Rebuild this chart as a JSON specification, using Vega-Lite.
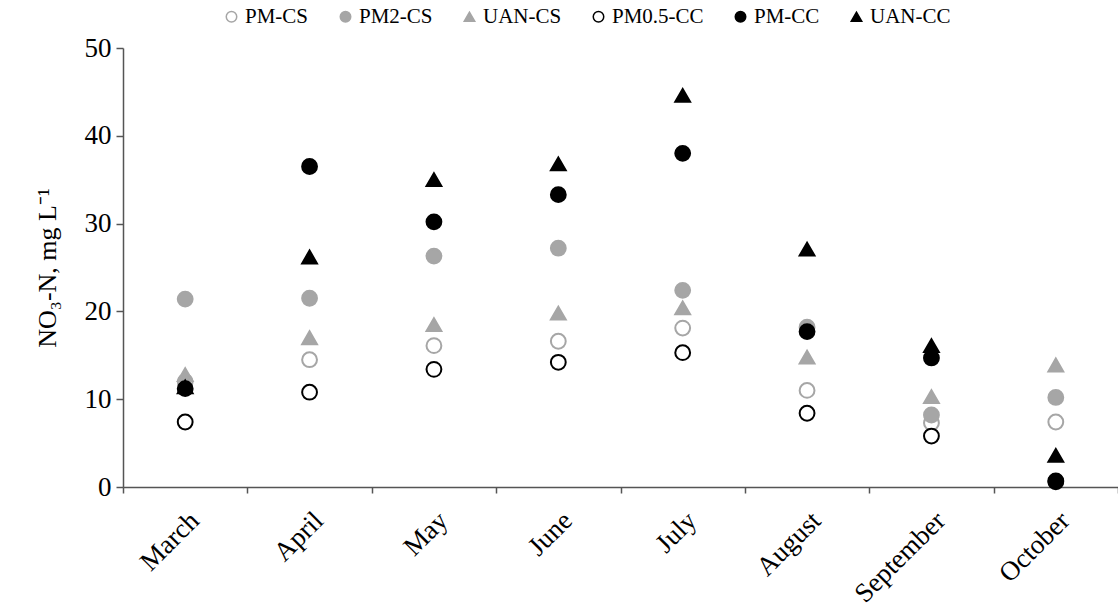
{
  "$schema": "https://vega.github.io/schema/vega-lite/v6.json",
  "autosize": {"type": "none"},
  "padding": {"left": 123, "top": 48, "right": 0, "bottom": 124},
  "width": 995,
  "height": 439,
  "background": "white",
  "config": {
    "font": "Liberation Serif",
    "view": {"stroke": null},
    "legend": {"labelFont": "Liberation Serif"}
  },
  "data": {
    "values": [
      {"month": "March", "series": "PM-CS", "value": 12.0},
      {"month": "March", "series": "PM2-CS", "value": 21.4},
      {"month": "March", "series": "UAN-CS", "value": 12.8},
      {"month": "March", "series": "PM0.5-CC", "value": 7.4},
      {"month": "March", "series": "PM-CC", "value": 11.2},
      {"month": "March", "series": "UAN-CC", "value": 11.4},
      {"month": "April", "series": "PM-CS", "value": 14.5},
      {"month": "April", "series": "PM2-CS", "value": 21.5},
      {"month": "April", "series": "UAN-CS", "value": 17.0},
      {"month": "April", "series": "PM0.5-CC", "value": 10.8},
      {"month": "April", "series": "PM-CC", "value": 36.5},
      {"month": "April", "series": "UAN-CC", "value": 26.2},
      {"month": "May", "series": "PM-CS", "value": 16.1},
      {"month": "May", "series": "PM2-CS", "value": 26.3},
      {"month": "May", "series": "UAN-CS", "value": 18.5},
      {"month": "May", "series": "PM0.5-CC", "value": 13.4},
      {"month": "May", "series": "PM-CC", "value": 30.2},
      {"month": "May", "series": "UAN-CC", "value": 35.0},
      {"month": "June", "series": "PM-CS", "value": 16.6},
      {"month": "June", "series": "PM2-CS", "value": 27.2},
      {"month": "June", "series": "UAN-CS", "value": 19.8},
      {"month": "June", "series": "PM0.5-CC", "value": 14.2},
      {"month": "June", "series": "PM-CC", "value": 33.3},
      {"month": "June", "series": "UAN-CC", "value": 36.8},
      {"month": "July", "series": "PM-CS", "value": 18.1},
      {"month": "July", "series": "PM2-CS", "value": 22.4},
      {"month": "July", "series": "UAN-CS", "value": 20.4},
      {"month": "July", "series": "PM0.5-CC", "value": 15.3},
      {"month": "July", "series": "PM-CC", "value": 38.0},
      {"month": "July", "series": "UAN-CC", "value": 44.6},
      {"month": "August", "series": "PM-CS", "value": 11.0},
      {"month": "August", "series": "PM2-CS", "value": 18.2},
      {"month": "August", "series": "UAN-CS", "value": 14.8},
      {"month": "August", "series": "PM0.5-CC", "value": 8.4},
      {"month": "August", "series": "PM-CC", "value": 17.7},
      {"month": "August", "series": "UAN-CC", "value": 27.1},
      {"month": "September", "series": "PM-CS", "value": 7.3},
      {"month": "September", "series": "PM2-CS", "value": 8.2},
      {"month": "September", "series": "UAN-CS", "value": 10.3},
      {"month": "September", "series": "PM0.5-CC", "value": 5.8},
      {"month": "September", "series": "PM-CC", "value": 14.7},
      {"month": "September", "series": "UAN-CC", "value": 16.1},
      {"month": "October", "series": "PM-CS", "value": 7.4},
      {"month": "October", "series": "PM2-CS", "value": 10.2},
      {"month": "October", "series": "UAN-CS", "value": 13.9},
      {"month": "October", "series": "PM0.5-CC", "value": 0.7},
      {"month": "October", "series": "PM-CC", "value": 0.6},
      {"month": "October", "series": "UAN-CC", "value": 3.6}
    ]
  },
  "mark": {"type": "point", "size": 220, "strokeWidth": 2, "opacity": 1},
  "encoding": {
    "x": {
      "field": "month",
      "type": "nominal",
      "sort": null,
      "scale": {"type": "band", "paddingInner": 0, "paddingOuter": 0},
      "axis": {
        "title": null,
        "tickBand": "extent",
        "labelAngle": -45,
        "labelAlign": "right",
        "labelBaseline": "top",
        "labelFont": "Liberation Serif",
        "labelFontSize": 27,
        "labelColor": "black",
        "labelPadding": 14,
        "domainColor": "#555555",
        "domainWidth": 1.5,
        "tickColor": "#555555",
        "tickWidth": 1.5,
        "tickSize": 6
      }
    },
    "y": {
      "field": "value",
      "type": "quantitative",
      "scale": {"domain": [0, 50], "nice": false, "zero": true},
      "axis": {
        "title": "NO₃-N, mg L⁻¹",
        "titleFont": "Liberation Serif",
        "titleFontSize": 26,
        "titleFontWeight": "normal",
        "titleColor": "black",
        "titlePadding": 24,
        "values": [0, 10, 20, 30, 40, 50],
        "labelFont": "Liberation Serif",
        "labelFontSize": 27,
        "labelColor": "black",
        "labelPadding": 5,
        "grid": false,
        "domainColor": "#555555",
        "domainWidth": 1.5,
        "tickColor": "#555555",
        "tickWidth": 1.5,
        "tickSize": 7
      }
    },
    "shape": {
      "field": "series",
      "type": "nominal",
      "scale": {
        "domain": ["PM-CS", "PM2-CS", "UAN-CS", "PM0.5-CC", "PM-CC", "UAN-CC"],
        "range": ["circle", "circle", "triangle-up", "circle", "circle", "triangle-up"]
      },
      "legend": {
        "title": null,
        "orient": "none",
        "direction": "horizontal",
        "legendX": 98,
        "legendY": -42,
        "labelFont": "Liberation Serif",
        "labelFontSize": 21,
        "labelColor": "black",
        "symbolSize": 110,
        "symbolStrokeWidth": 1.5,
        "labelOffset": 3,
        "columnPadding": 26
      }
    },
    "fill": {
      "field": "series",
      "type": "nominal",
      "scale": {
        "domain": ["PM-CS", "PM2-CS", "UAN-CS", "PM0.5-CC", "PM-CC", "UAN-CC"],
        "range": ["white", "#a6a6a6", "#a6a6a6", "white", "black", "black"]
      }
    },
    "stroke": {
      "field": "series",
      "type": "nominal",
      "scale": {
        "domain": ["PM-CS", "PM2-CS", "UAN-CS", "PM0.5-CC", "PM-CC", "UAN-CC"],
        "range": ["#a6a6a6", "#a6a6a6", "#a6a6a6", "black", "black", "black"]
      }
    }
  }
}
